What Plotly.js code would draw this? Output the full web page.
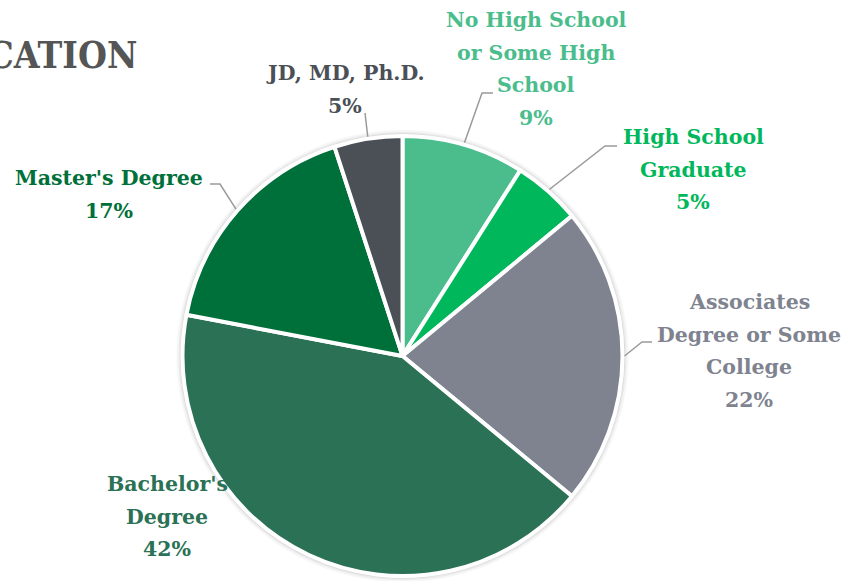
<!DOCTYPE html>
<html>
<head>
<meta charset="utf-8">
<script src="https://cdn.plot.ly/plotly-3.0.1.min.js"></script>
<style>html,body{margin:0;padding:0;background:#fff;overflow:hidden}#chart{width:843px;height:581px}</style>
</head>
<body>
<div id="chart"></div>
<script>
// ---- data ----
const categories = ["No High School or Some High School", "High School Graduate", "Associates Degree or Some College", "Bachelor's Degree", "Master's Degree", "JD, MD, Ph.D."];
const values = [9, 5, 22, 42, 17, 5];
const labelLines = [
  ["No High School", "or Some High", "School"],
  ["High School", "Graduate"],
  ["Associates", "Degree or Some", "College"],
  ["Bachelor's", "Degree"],
  ["Master's Degree"],
  ["JD, MD, Ph.D."]
];
const colors = ["#4bbd8c", "#00b75b", "#7e838f", "#2a7155", "#00703a", "#4b4f56"];
const titleText = "EDUCATION";

// ---- layout ----
const W = 843, H = 581;
const cx = 402.5, cy = 356, R = 220;
const px = x => x / W, py = y => 1 - y / H;
const FONT = "DejaVu Serif, serif";
const TITLE_FONT = "DejaVu Serif Condensed, DejaVu Serif, serif";
// label block placement: centre x, first line y; connector knee and text-side end
const labelPos = [
  {x: 536, y: 20, knee: [482, 93], end: [493, 93]},
  {x: 693, y: 137, knee: [605, 146], end: [617, 146]},
  {x: 749, y: 302, knee: [642, 342], end: [652, 342]},
  {x: 167, y: 484, knee: null, end: null},
  {x: 109, y: 178, knee: [220, 184], end: [210, 184]},
  {x: 345, y: 73, knee: null, end: [365, 113]}
];
const lineGap = 32.7;

const total = values.reduce((a, b) => a + b, 0);
const annotations = [];
const shapes = [];
// soft shadow behind the pie
[[6, 0.035], [4, 0.05], [2.5, 0.07]].forEach(([d, a]) => {
  shapes.push({type: "circle", xref: "paper", yref: "paper", layer: "below",
    x0: px(cx - R - d), x1: px(cx + R + d), y0: py(cy + R + d), y1: py(cy - R - d),
    fillcolor: "rgba(0,0,0," + a + ")", line: {width: 0}});
});
let cum = 0;
values.forEach((v, i) => {
  const mid = (cum + v / 2) / total * 2 * Math.PI;
  cum += v;
  const ex = cx + (R + 2) * Math.sin(mid), ey = cy - (R + 2) * Math.cos(mid);
  const lp = labelPos[i];
  const lines = labelLines[i].concat([Math.round(v / total * 100) + "%"]);
  lines.forEach((t, k) => {
    annotations.push({text: t, x: px(lp.x), y: py(lp.y + k * lineGap), xref: "paper", yref: "paper",
      xanchor: "center", yanchor: "middle", showarrow: false,
      font: {family: FONT, size: 20.5, color: colors[i], weight: 700}});
  });
  if (lp.end) {
    let path = "M" + px(lp.end[0]) + "," + py(lp.end[1]);
    if (lp.knee) path += " L" + px(lp.knee[0]) + "," + py(lp.knee[1]);
    path += " L" + px(ex) + "," + py(ey);
    shapes.push({type: "path", xref: "paper", yref: "paper", path: path, layer: "above",
      line: {color: "#9a9a9a", width: 1.5}});
  }
});
annotations.push({text: titleText, x: px(139), y: py(55), xref: "paper", yref: "paper",
  xanchor: "right", yanchor: "middle", showarrow: false,
  font: {family: TITLE_FONT, size: 37, color: "#555555", weight: 700}});

const trace = {
  type: "pie", labels: categories, values: values, sort: false, direction: "clockwise", rotation: 0,
  marker: {colors: colors, line: {color: "#ffffff", width: 4}},
  textinfo: "none", hoverinfo: "label+percent", showlegend: false,
  domain: {x: [px(cx - R), px(cx + R)], y: [py(cy + R), py(cy - R)]}
};

Plotly.newPlot("chart", [trace], {
  width: W, height: H, margin: {l: 0, r: 0, t: 0, b: 0},
  paper_bgcolor: "#ffffff", showlegend: false,
  annotations: annotations, shapes: shapes
}, {staticPlot: true});
</script>
</body>
</html>
